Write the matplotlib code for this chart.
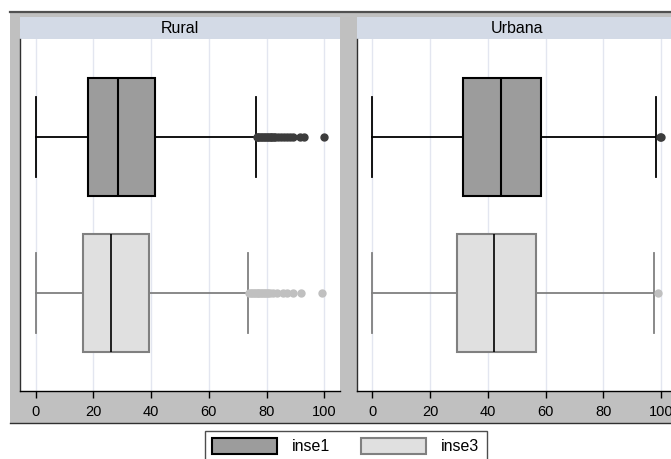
import matplotlib
matplotlib.use("Agg")
import matplotlib.pyplot as plt
from matplotlib.patches import Rectangle, Patch
from matplotlib.lines import Line2D

plt.rcParams['font.family'] = ['Liberation Sans', 'DejaVu Sans']
plt.rcParams['font.size'] = 10

# ---- data ----
panels = ["Rural", "Urbana"]
series = ["inse1", "inse3"]
xticks = [0, 20, 40, 60, 80, 100]

# per panel, per series: (whislo, q1, med, q3, whishi)
rural_inse1 = [0, 18.1, 28.6, 41.5, 76.2]
rural_inse3 = [0, 16.3, 26.1, 39.2, 73.7]
urbana_inse1 = [0, 31.3, 44.4, 58.5, 98.3]
urbana_inse3 = [0, 29.2, 42.0, 56.8, 97.6]

rural_inse1_out = [76.5, 77, 77.5, 78, 78.5, 79, 79.5, 80, 80.5, 81, 81.5, 82,
                   82.5, 83, 84, 85, 86, 87, 88, 89, 91.5, 93, 99.8]
rural_inse3_out = [74, 74.5, 75, 75.5, 76, 76.5, 77, 77.5, 78, 78.5, 79, 79.5,
                   80, 80.5, 81, 82.2, 83.5, 85.7, 87, 89, 91.9, 99.1]
urbana_inse1_out = [99.6, 100]
urbana_inse3_out = [99.0]

# ---- styles ----
fill = {"inse1": "#9c9c9c", "inse3": "#e0e0e0"}
edge = {"inse1": "#000000", "inse3": "#808080"}
flier = {"inse1": "#3c3c3c", "inse3": "#c0c0c0"}
grey_bg = "#c0c0c0"
strip_col = "#d3dae6"
grid_col = "#e3e6f0"

W, H = 671, 459
fig = plt.figure(figsize=(W / 100, H / 100), dpi=100)
fig.patch.set_facecolor("white")

# outer grey region
fig.patches.append(Rectangle((10 / W, 1 - 423 / H), 1.2, (423 - 12) / H,
                             transform=fig.transFigure, facecolor=grey_bg,
                             edgecolor="none", zorder=-5))
fig.lines.append(Line2D([10 / W, 1.0], [1 - 12 / H, 1 - 12 / H],
                        transform=fig.transFigure, color="#505050", lw=1.6,
                        zorder=-4))
fig.lines.append(Line2D([10 / W, 1.0], [1 - 423 / H, 1 - 423 / H],
                        transform=fig.transFigure, color="#303030", lw=1.0,
                        zorder=-4))

data = {
    "Rural": [(rural_inse1, rural_inse1_out), (rural_inse3, rural_inse3_out)],
    "Urbana": [(urbana_inse1, urbana_inse1_out), (urbana_inse3, urbana_inse3_out)],
}

ax_w = 320 / W
ax_b = 1 - 391 / H
ax_h = 351.7 / H
lefts = [20 / W, 356.7 / W]
strip_h = 22 / 351.7

for name, left in zip(panels, lefts):
    ax = fig.add_axes([left, ax_b, ax_w, ax_h])
    ax.set_facecolor("white")
    for i, (s, (st, out)) in enumerate(zip(series, data[name])):
        stats = [dict(whislo=st[0], q1=st[1], med=st[2], q3=st[3],
                      whishi=st[4], fliers=out, label=s)]
        kw = dict(positions=[i + 1], widths=0.753, capwidths=0.51,
                  patch_artist=True, showfliers=True,
                  boxprops=dict(facecolor=fill[s], edgecolor=edge[s], linewidth=1.5),
                  medianprops=dict(color="black", linewidth=1.5 if s == "inse1" else 1.2),
                  whiskerprops=dict(color=edge[s], linewidth=1.3),
                  capprops=dict(color=edge[s], linewidth=1.3),
                  flierprops=dict(marker="o", markersize=5,
                                  markerfacecolor=flier[s],
                                  markeredgecolor=flier[s]))
        try:
            ax.bxp(stats, orientation="horizontal", **kw)
        except TypeError:
            ax.bxp(stats, vert=False, **kw)
    ax.set_xlim(-5.4, 105.4)
    ax.set_ylim(2.624, 0.378)
    ax.set_xticks(xticks)
    ax.set_xticklabels([str(t) for t in xticks])
    ax.set_yticks([])
    ax.grid(axis="x", color=grid_col, lw=1.0)
    ax.set_axisbelow(True)
    for sp in ["top", "right"]:
        ax.spines[sp].set_visible(False)
    ax.spines["left"].set_color("#303030")
    ax.spines["bottom"].set_color("black")
    ax.spines["left"].set_linewidth(1.0)
    ax.spines["bottom"].set_linewidth(1.0)
    ax.tick_params(axis="x", length=5, width=1, pad=5, labelsize=10.5)
    # strip
    ax.add_patch(Rectangle((0, 1), 1, strip_h, transform=ax.transAxes,
                           facecolor=strip_col, edgecolor="none", clip_on=False))
    ax.text(0.5, 1 + strip_h / 2, name, transform=ax.transAxes,
            ha="center", va="center", fontsize=11.5)

handles = [Patch(facecolor=fill[s], edgecolor=edge[s], linewidth=1.5) for s in series]
fs = 11.5
em = fs * 100 / 72
leg = fig.legend(handles, series, loc="upper left",
                 bbox_to_anchor=(205 / W, 1 - 431 / H), ncol=2,
                 frameon=True, fancybox=False, edgecolor="#202020",
                 handlelength=65 / em, handleheight=18 / em,
                 handletextpad=15 / em, columnspacing=31 / em,
                 borderpad=7 / em, borderaxespad=0, fontsize=fs)
leg.get_frame().set_linewidth(1.0)

fig.savefig("out.png", dpi=100)
